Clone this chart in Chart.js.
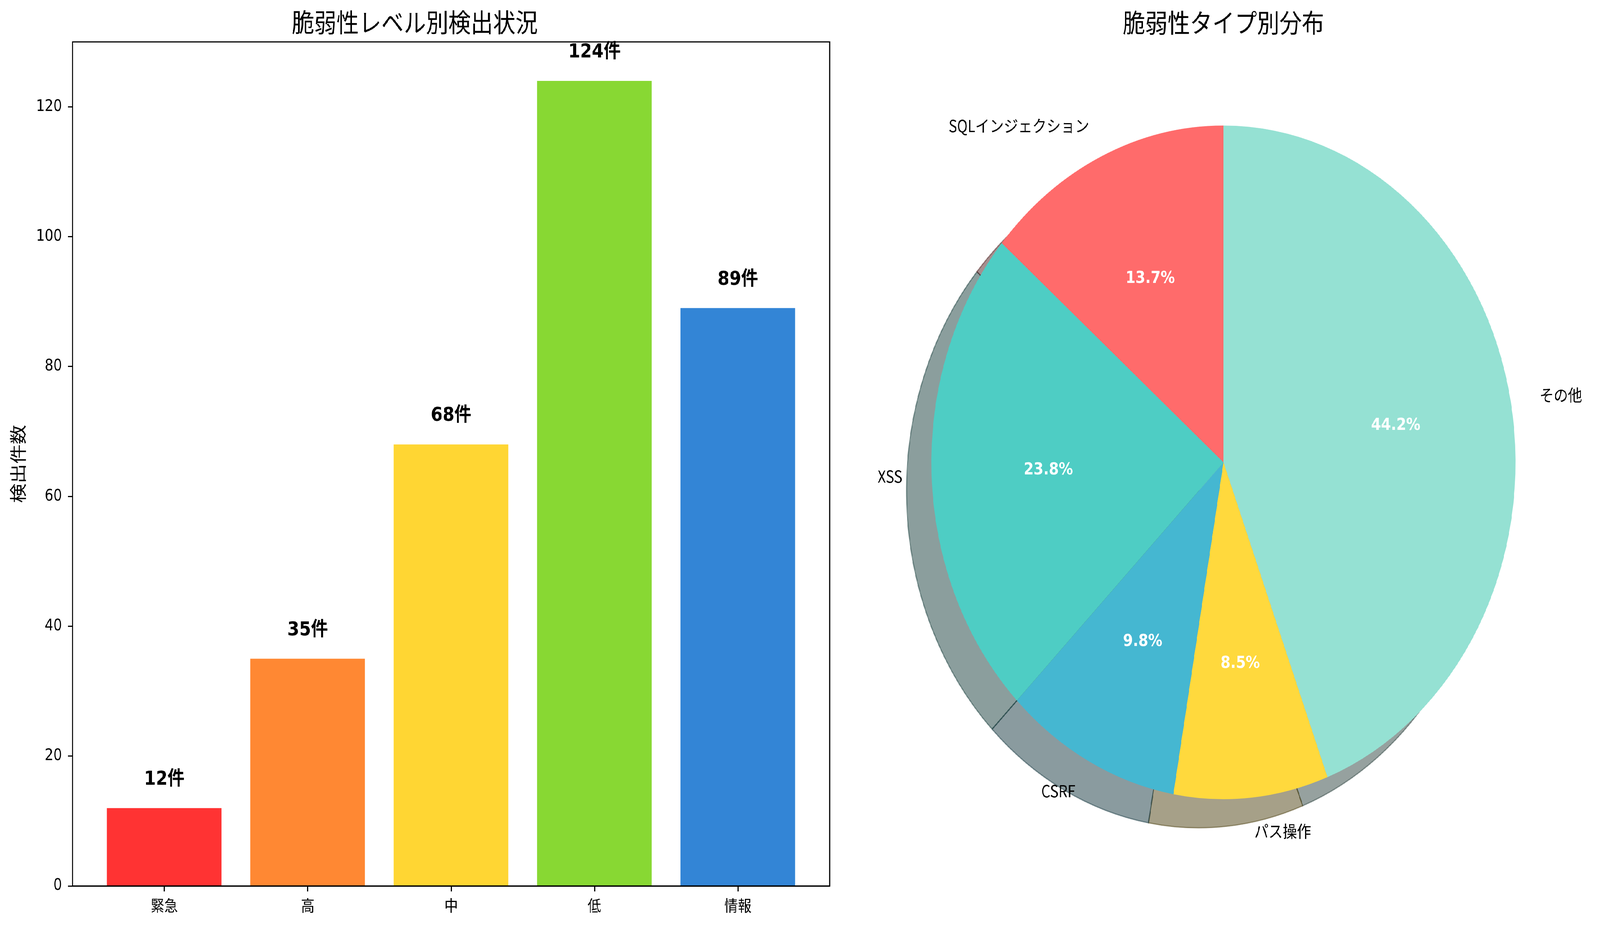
<!DOCTYPE html>
<html lang="ja">
<head>
<meta charset="utf-8">
<title>脆弱性スキャン結果</title>
<script src="https://cdn.jsdelivr.net/npm/chart.js@4.4.1/dist/chart.umd.min.js"></script>
<style>
  html, body { margin: 0; padding: 0; background: #fff; overflow: hidden; }
  #wrap { position: relative; width: 4721px; height: 2372px; transform-origin: 0 0; }
  canvas { position: absolute; top: 0; }
  #barChart { left: 0; width: 2470px; height: 2372px; }
  #pieChart { left: 2460px; width: 2261px; height: 2372px; }
</style>
</head>
<body>
<div id="wrap">
  <canvas id="barChart" width="2470" height="2372"></canvas>
  <canvas id="pieChart" width="2261" height="2372"></canvas>
</div>
<script>
// レベル別の検出件数
const severityLabels = ['緊急', '高', '中', '低', '情報'];
const severityCounts = [12, 35, 68, 124, 89];
const severityColors = ['#FF3333', '#FF8833', '#FFD633', '#88D833', '#3385D6'];
const countTicks = [0, 20, 40, 60, 80, 100, 120];

// タイプ別の件数
const typeLabels = ['SQLインジェクション', 'XSS', 'CSRF', 'パス操作', 'その他'];
const typeCounts = [45, 78, 32, 28, 145];
const typeColors = ['#FF6B6B', '#4ECDC4', '#45B7D1', '#FFD93D', '#95E1D3'];

const CJK = '"Noto Sans CJK JP", "Noto Sans", sans-serif';
const LATIN = '"DejaVu Sans", "Noto Sans CJK JP", sans-serif';

// the figure is laid out at 4721x2372; fit it to whatever window we get
const wrap = document.getElementById('wrap');
wrap.style.transform = `scale(${window.innerWidth / 4721}, ${window.innerHeight / 2372})`;

Chart.defaults.color = '#000';
Chart.defaults.font.family = CJK;
Chart.defaults.animation = false;
Chart.defaults.devicePixelRatio = 1;
Chart.defaults.plugins.legend.display = false;
Chart.defaults.plugins.tooltip.enabled = false;

// box around the plot area (top/right spines too)
const frame = {
    id: 'frame',
    afterDatasetsDraw(chart) {
        const {ctx, chartArea: a} = chart;
        ctx.save();
        ctx.strokeStyle = '#000';
        ctx.lineWidth = 3;
        ctx.strokeRect(a.left, a.top, a.right - a.left, a.bottom - a.top);
        ctx.restore();
    }
};

// "NN件" above each bar
const barValues = {
    id: 'barValues',
    afterDatasetsDraw(chart) {
        const {ctx} = chart;
        const yScale = chart.scales.y;
        ctx.save();
        ctx.font = 'bold 50px ' + LATIN;
        ctx.fillStyle = '#000';
        ctx.textAlign = 'center';
        ctx.textBaseline = 'alphabetic';
        chart.getDatasetMeta(0).data.forEach((bar, i) => {
            const v = severityCounts[i];
            ctx.fillText(v + '件', bar.x, yScale.getPixelForValue(v + 3) - 10);
        });
        ctx.restore();
    }
};

const axisGrid = {drawOnChartArea: false, drawTicks: true, offset: false, tickLength: 14, tickWidth: 3, tickColor: '#000'};
const axisBorder = {display: true, color: '#000', width: 3};

new Chart(document.getElementById('barChart'), {
    type: 'bar',
    data: {
        datasets: [{
            data: severityCounts.map((v, i) => ({x: i, y: v})),
            backgroundColor: severityColors,
            borderWidth: 0,
            categoryPercentage: 1,
            barPercentage: 0.8
        }]
    },
    options: {
        responsive: false,
        layout: {padding: {left: 0, right: 22, top: 0, bottom: 0}},
        plugins: {
            title: {
                display: true,
                text: '脆弱性レベル別検出状況',
                color: '#000',
                font: {family: CJK, size: 66, weight: 'normal'},
                padding: {top: 17, bottom: 11}
            }
        },
        scales: {
            x: {
                type: 'linear',
                offset: false,
                min: -0.64,
                max: 4.64,
                afterBuildTicks: s => { s.ticks = severityLabels.map((_, i) => ({value: i})); },
                afterFit: s => { s.height = 105; },
                ticks: {
                    callback: v => severityLabels[v],
                    font: {family: CJK, size: 40},
                    padding: 12,
                    maxRotation: 0,
                    autoSkip: false
                },
                grid: axisGrid,
                border: axisBorder
            },
            y: {
                min: 0,
                max: 130,
                afterBuildTicks: s => { s.ticks = countTicks.map(v => ({value: v})); },
                afterFit: s => { s.width = 214; },
                ticks: {font: {family: LATIN, size: 40}, padding: 17},
                grid: axisGrid,
                border: axisBorder,
                title: {
                    display: true,
                    text: '検出件数',
                    font: {family: CJK, size: 50},
                    padding: {top: 23, bottom: 0}
                }
            }
        }
    },
    plugins: [frame, barValues]
});

// pie: Chart.js goes clockwise from the top, so feed the slices reversed
const order = typeLabels.map((_, i) => typeLabels.length - 1 - i);
const total = typeCounts.reduce((a, b) => a + b, 0);

function shade(hex, k) {
    const n = parseInt(hex.slice(1), 16);
    return [(n >> 16) & 255, (n >> 8) & 255, n & 255].map(c => Math.round(c * k));
}

// drop shadow under the pie
const pieShadow = {
    id: 'pieShadow',
    beforeDatasetsDraw(chart) {
        const {ctx} = chart;
        const colors = chart.data.datasets[0].backgroundColor;
        ctx.save();
        chart.getDatasetMeta(0).data.forEach((arc, i) => {
            const [r, g, b] = shade(colors[i], 0.3);
            const off = arc.outerRadius * 0.085;
            const cx = arc.x - off, cy = arc.y + off;
            ctx.beginPath();
            ctx.moveTo(cx, cy);
            ctx.arc(cx, cy, arc.outerRadius, arc.startAngle, arc.endAngle);
            ctx.closePath();
            ctx.fillStyle = `rgba(${r},${g},${b},0.5)`;
            ctx.strokeStyle = `rgba(${r},${g},${b},0.5)`;
            ctx.lineWidth = 3;
            ctx.fill();
            ctx.stroke();
        });
        ctx.restore();
    }
};

// names outside, percentages inside
const pieLabels = {
    id: 'pieLabels',
    afterDatasetsDraw(chart) {
        const {ctx} = chart;
        const ds = chart.data.datasets[0];
        ctx.save();
        ctx.textBaseline = 'middle';
        chart.getDatasetMeta(0).data.forEach((arc, i) => {
            const mid = (arc.startAngle + arc.endAngle) / 2;
            const cos = Math.cos(mid), sin = Math.sin(mid);
            const r = arc.outerRadius;
            ctx.font = '42px ' + CJK;
            ctx.fillStyle = '#000';
            ctx.textAlign = cos >= 0 ? 'left' : 'right';
            ctx.fillText(chart.data.labels[i], arc.x + 1.1 * r * cos, arc.y + 1.1 * r * sin);
            ctx.font = 'bold 42px ' + LATIN;
            ctx.fillStyle = '#fff';
            ctx.textAlign = 'center';
            ctx.fillText((ds.data[i] / total * 100).toFixed(1) + '%', arc.x + 0.6 * r * cos, arc.y + 0.6 * r * sin);
        });
        ctx.restore();
    }
};

new Chart(document.getElementById('pieChart'), {
    type: 'pie',
    data: {
        labels: order.map(i => typeLabels[i]),
        datasets: [{
            data: order.map(i => typeCounts[i]),
            backgroundColor: order.map(i => typeColors[i]),
            borderWidth: 0,
            hoverOffset: 0
        }]
    },
    options: {
        responsive: false,
        layout: {padding: {left: 288, right: 249, top: 0, bottom: 327}},
        plugins: {
            title: {
                display: true,
                text: '脆弱性タイプ別分布',
                color: '#000',
                font: {family: CJK, size: 66, weight: 'normal'},
                padding: {top: 18, bottom: 224}
            }
        }
    },
    plugins: [pieShadow, pieLabels]
});
</script>
</body>
</html>
